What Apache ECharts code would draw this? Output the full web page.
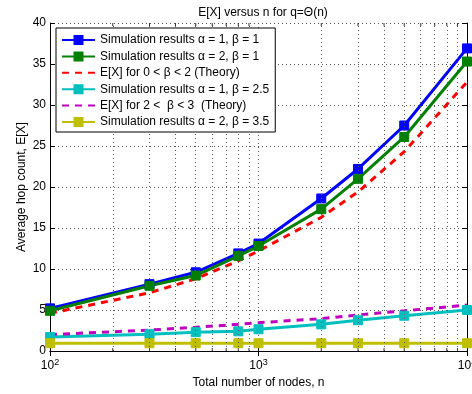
<!DOCTYPE html>
<html><head><meta charset="utf-8">
<script src="https://cdn.jsdelivr.net/npm/echarts@6/dist/echarts.min.js"></script>
<style>html,body{margin:0;padding:0;background:#fff}#c{width:472px;height:394px}</style>
</head><body><div id="c"></div>
<script>
const nodes = [100, 300, 500, 800, 1000, 2000, 3000, 5000, 10000];
const simA1B1 = [5.2, 8.15, 9.6, 11.9, 13.1, 18.6, 22.2, 27.5, 36.9];
const simA2B1 = [4.9, 7.95, 9.2, 11.6, 12.8, 17.3, 21.0, 26.1, 35.3];
const theoryLow = [4.6, 7.1, 8.8, 11.0, 12.2, 16.3, 19.4, 24.3, 32.8];
const simA1B25 = [1.7, 2.05, 2.3, 2.4, 2.65, 3.25, 3.75, 4.3, 5.0];
const theoryMid = [2.0, 2.55, 2.9, 3.25, 3.45, 3.95, 4.4, 4.9, 5.6];
const simA2B35 = [0.95, 0.95, 0.95, 0.95, 0.95, 0.95, 0.95, 0.95, 0.95];
const minorX = [200,300,400,500,600,700,800,900,2000,3000,4000,5000,6000,7000,8000,9000];
const yTicks = [0, 5, 10, 15, 20, 25, 30, 35, 40];
const names = [
  'Simulation results \u03b1 = 1, \u03b2 = 1',
  'Simulation results \u03b1 = 2, \u03b2 = 1',
  'E[X] for 0 < \u03b2 < 2 (Theory)',
  'Simulation results \u03b1 = 1, \u03b2 = 2.5',
  'E[X] for 2 <  \u03b2 < 3  (Theory)',
  'Simulation results \u03b1 = 2, \u03b2 = 3.5'
];
const dashedNames = [names[2], names[4]];
const FONT = 'Liberation Sans, Arial, sans-serif';
const pair = arr => nodes.map((n, i) => [n, arr[i]]);
function sim(name, arr, color) {
  return { name, type: 'line', data: pair(arr), symbol: 'rect', symbolSize: 9,
    lineStyle: { color, width: 3 }, itemStyle: { color, borderColor: color, borderWidth: 1 },
    emphasis: { disabled: true }, animation: false, z: 3 };
}
function theory(name, arr, color) {
  return { name, type: 'line', data: pair(arr), symbol: 'none',
    lineStyle: { color, width: 3, type: [7, 6] }, itemStyle: { color },
    emphasis: { disabled: true }, animation: false, z: 3 };
}
const sup = { '100': '2', '1000': '3', '10000': '4' };
const chart = echarts.init(document.getElementById('c'), null, { renderer: 'canvas' });
chart.setOption({
  backgroundColor: '#fff',
  animation: false,
  textStyle: { fontFamily: FONT },
  title: { text: 'E[X] versus n for q=\u0398(n)', left: 258, top: 2, textAlign: 'center',
    textStyle: { fontSize: 12, fontWeight: 'normal', color: '#000', fontFamily: FONT } },
  grid: { left: 50, right: 5, top: 23, bottom: 43, outerBoundsMode: 'none' },
  legend: {
    data: names.map(n => dashedNames.includes(n) ? { name: n, itemStyle: { opacity: 0 } } : { name: n }),
    orient: 'vertical', left: 56, top: 28,
    backgroundColor: '#fff', borderColor: '#000', borderWidth: 1, borderRadius: 0,
    padding: [6, 6, 4, 5], itemWidth: 33, itemHeight: 10, itemGap: 4.4,
    textStyle: { fontSize: 12, color: '#000', fontFamily: FONT }, selectedMode: false, z: 10
  },
  xAxis: [
    { type: 'log', logBase: 10, min: 100, max: 10000, position: 'bottom',
      name: 'Total number of nodes, n', nameLocation: 'middle', nameGap: 19,
      nameTextStyle: { fontSize: 12, color: '#000', fontFamily: FONT },
      axisLine: { lineStyle: { color: '#000', width: 1 } },
      axisTick: { inside: true, length: 5, lineStyle: { color: '#000' } },
      axisLabel: { color: '#000', margin: 7, fontFamily: FONT, alignMaxLabel: 'center', alignMinLabel: 'center',
        formatter: v => '{b|10}{s|' + (sup[String(Math.round(v))] || '') + '}',
        rich: { b: { fontSize: 12, color: '#000', fontFamily: FONT },
                s: { fontSize: 9, color: '#000', verticalAlign: 'top', padding: [0, 0, 7, 0], fontFamily: FONT } } },
      splitLine: { show: true, lineStyle: { color: '#555', type: [1, 3], width: 1 } } },
    { type: 'log', logBase: 10, min: 100, max: 10000, position: 'top',
      axisLine: { lineStyle: { color: '#000', width: 1 } },
      axisTick: { inside: true, length: 5, lineStyle: { color: '#000' } },
      axisLabel: { show: false }, splitLine: { show: false } }
  ],
  yAxis: [
    { type: 'value', min: 0, max: 40, interval: 5, position: 'left',
      name: 'Average hop count, E[X]', nameLocation: 'middle', nameGap: 22, nameMoveOverlap: false,
      nameTextStyle: { fontSize: 12, color: '#000', fontFamily: FONT },
      axisLine: { show: true, lineStyle: { color: '#000', width: 1 } },
      axisTick: { show: true, inside: true, length: 5, lineStyle: { color: '#000' } },
      axisLabel: { color: '#000', fontSize: 12, margin: 4, fontFamily: FONT },
      splitLine: { show: true, lineStyle: { color: '#555', type: [1, 3], width: 1 } } },
    { type: 'value', min: 0, max: 40, interval: 5, position: 'right',
      axisLine: { show: true, lineStyle: { color: '#000', width: 1 } },
      axisTick: { show: true, inside: true, length: 5, lineStyle: { color: '#000' } },
      axisLabel: { show: false }, splitLine: { show: false } }
  ],
  series: [
    { name: 'grid', type: 'line', data: [], silent: true, z: 1,
      markLine: { silent: true, symbol: 'none', animation: false, label: { show: false },
        lineStyle: { color: '#555', type: [1, 3], width: 1 },
        data: minorX.map(v => ({ xAxis: v })) } },
    { name: 'ticksB', type: 'scatter', data: minorX.map(v => [v, 0]), symbol: 'rect', symbolSize: [1, 3],
      symbolOffset: [0, -1.5], itemStyle: { color: '#000' }, silent: true, z: 2 },
    { name: 'ticksT', type: 'scatter', data: minorX.map(v => [v, 40]), symbol: 'rect', symbolSize: [1, 3],
      symbolOffset: [0, 1.5], itemStyle: { color: '#000' }, silent: true, z: 2 },
    sim(names[0], simA1B1, '#0000ff'),
    sim(names[1], simA2B1, '#008000'),
    theory(names[2], theoryLow, '#ff0000'),
    sim(names[3], simA1B25, '#00bfbf'),
    theory(names[4], theoryMid, '#bf00bf'),
    sim(names[5], simA2B35, '#bfbf00')
  ]
});
</script></body></html>
